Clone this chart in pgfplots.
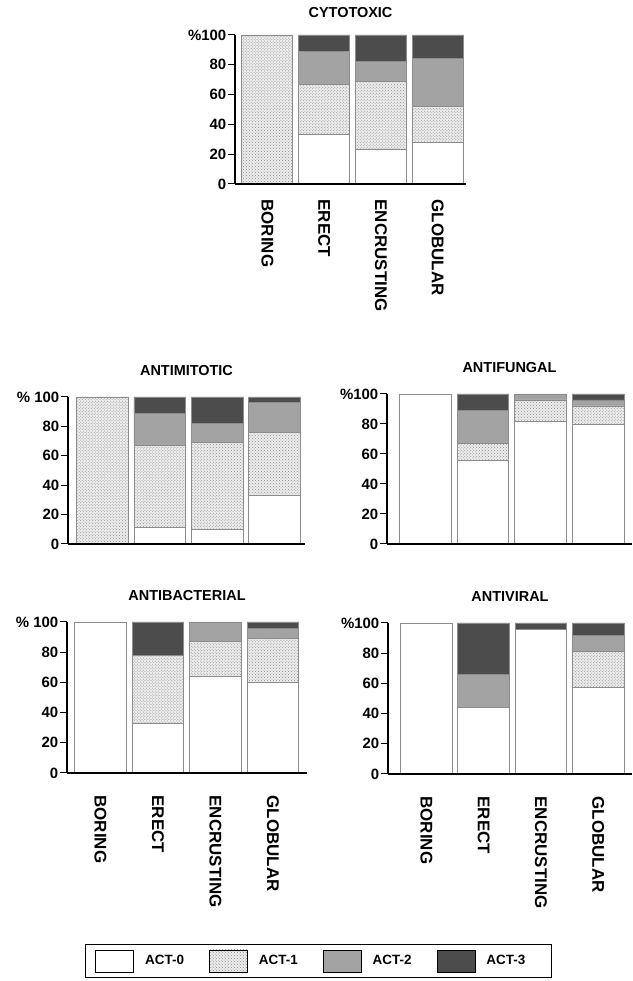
\documentclass[border=0pt]{standalone}
\usepackage{fontspec}
\setmainfont{Liberation Sans}
\usepackage{pgfplots}
\pgfplotsset{compat=1.18}
\usetikzlibrary{patterns}

\pgfplotsset{
  act0/.style={fill=white, draw=black!45, line width=0.9bp},
  act1/.style={fill=black!7, draw=black!45, line width=0.9bp, postaction={pattern=crosshatch dots, pattern color=black!45}},
  act2/.style={fill=black!36, draw=black!45, line width=0.9bp},
  act3/.style={fill=black!70, draw=black!45, line width=0.9bp},
  panel/.style={
    scale only axis, axis on top,
    ybar stacked, bar width=0.9,
    ymin=0, ymax=100,
    axis x line=bottom, axis y line=left,
    axis line style={-, line width=1.4bp},
    xtick={0,1,2,3}, ytick={0,20,40,60,80,100},
    xtick style={draw=none},
    ytick style={line width=1bp, black},
    tick align=outside, major tick length=7bp,
    /pgf/number format/assume math mode=true,
    yticklabel style={font=\bfseries\fontsize{15}{15}\selectfont, inner sep=1.5bp},
    title style={font=\bfseries\fontsize{14.5}{14.5}\selectfont, yshift=12bp},
    xticklabel style={rotate=-90, anchor=west, font=\bfseries\fontsize{17}{17}\selectfont, xshift=12bp},
  }
}

\begin{document}
\begin{tikzpicture}[x=1bp,y=1bp]
\path[use as bounding box] (0,0) rectangle (633,981);

% CYTOTOXIC
\begin{axis}[panel, at={(235bp,797bp)}, width=231bp, height=149bp,
  xmin=-0.57, xmax=3.5, title={CYTOTOXIC}, title style={yshift=-4bp},
  xticklabel style={xshift=-7bp},
  yticklabels={0,20,40,60,80,\%100},
  xticklabels={BORING,ERECT,ENCRUSTING,GLOBULAR}]
\addplot[act0] coordinates {(0,0) (1,33) (2,23) (3,28)};
\addplot[act1] coordinates {(0,100) (1,34) (2,46) (3,24)};
\addplot[act2] coordinates {(0,0) (1,22) (2,13) (3,32)};
\addplot[act3] coordinates {(0,0) (1,11) (2,18) (3,16)};
\end{axis}

% ANTIMITOTIC
\begin{axis}[panel, at={(68bp,437bp)}, width=237bp, height=147bp,
  xmin=-0.6, xmax=3.53, title={ANTIMITOTIC},
  yticklabels={0,20,40,60,80,\%\ 100}, xticklabels={}]
\addplot[act0] coordinates {(0,0) (1,11) (2,10) (3,33)};
\addplot[act1] coordinates {(0,100) (1,56) (2,59) (3,43)};
\addplot[act2] coordinates {(0,0) (1,22) (2,13) (3,20)};
\addplot[act3] coordinates {(0,0) (1,11) (2,18) (3,4)};
\end{axis}

% ANTIFUNGAL
\begin{axis}[panel, at={(387bp,437bp)}, width=245bp, height=150bp,
  xmin=-0.67, xmax=3.59, title={ANTIFUNGAL},
  yticklabels={0,20,40,60,80,\%100}, xticklabels={}]
\addplot[act0] coordinates {(0,100) (1,56) (2,82) (3,80)};
\addplot[act1] coordinates {(0,0) (1,11) (2,14) (3,12)};
\addplot[act2] coordinates {(0,0) (1,22) (2,4) (3,4)};
\addplot[act3] coordinates {(0,0) (1,11) (2,0) (3,4)};
\end{axis}

% ANTIBACTERIAL
\begin{axis}[panel, at={(67bp,208bp)}, width=240bp, height=151bp,
  xmin=-0.58, xmax=3.59, title={ANTIBACTERIAL},
  yticklabels={0,20,40,60,80,\%\ 100},
  xticklabels={BORING,ERECT,ENCRUSTING,GLOBULAR},
  legend columns=4,
  legend style={at={(1.047,-1.245)}, anchor=center, draw=black, line width=0.8bp,
    font=\bfseries\fontsize{13.5}{13.5}\selectfont, inner xsep=10bp, inner ysep=5bp,
    /tikz/every odd column/.append style={column sep=9bp},
    /tikz/every even column/.append style={column sep=23bp}},
  legend image code/.code={\draw[#1, draw=black] (0bp,-11bp) rectangle (38bp,11bp);}]
\addplot[act0] coordinates {(0,100) (1,33) (2,64) (3,60)};
\addlegendentry{ACT-0}
\addplot[act1] coordinates {(0,0) (1,45) (2,23) (3,29)};
\addlegendentry{ACT-1}
\addplot[act2] coordinates {(0,0) (1,0) (2,13) (3,7)};
\addlegendentry{ACT-2}
\addplot[act3] coordinates {(0,0) (1,22) (2,0) (3,4)};
\addlegendentry{ACT-3\hspace*{14bp}}
\end{axis}

% ANTIVIRAL
\begin{axis}[panel, at={(388bp,207bp)}, width=244bp, height=151bp,
  xmin=-0.67, xmax=3.59, title={ANTIVIRAL},
  yticklabels={0,20,40,60,80,\%100},
  xticklabels={BORING,ERECT,ENCRUSTING,GLOBULAR}]
\addplot[act0] coordinates {(0,100) (1,44) (2,96) (3,57)};
\addplot[act1] coordinates {(0,0) (1,0) (2,0) (3,24)};
\addplot[act2] coordinates {(0,0) (1,22) (2,0) (3,11)};
\addplot[act3] coordinates {(0,0) (1,34) (2,4) (3,8)};
\end{axis}
\end{tikzpicture}
\end{document}
